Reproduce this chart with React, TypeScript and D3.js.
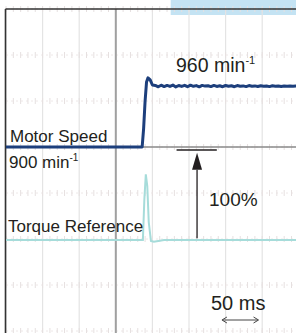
import React from 'react';
import * as d3 from 'd3';

// speed trace (min-1) against time (ms), step applied near t = 37 ms
const speedTimes = [-150, 36, 38, 40, 42, 44, 47, 50, 54, 58, 62, 66, 70, 74, 78, 82, 86, 90, 94, 98, 102, 106, 110, 114, 118, 122, 126, 130, 134, 138, 142, 146, 150, 154, 158, 162, 166, 170, 174, 178, 182, 186, 190, 194, 198, 202, 206, 210, 214, 218, 222, 226, 230, 234, 238, 242, 246, 250];
const speedValues = [900, 900, 918, 945, 964, 968, 966, 961, 960.5, 959.2, 960.8, 959.4, 960.6, 959.6, 960.9, 959.1, 960.5, 959.6, 960.7, 959.3, 960.8, 959.7, 960.4, 959.2, 960.6, 959.9, 960.3, 959.4, 960.6, 959.6, 960.2, 959.3, 960.5, 959.7, 960.2, 959.3, 960.4, 959.8, 960.1, 959.4, 960.4, 959.8, 960.1, 959.5, 960.3, 959.8, 960, 959.4, 960.2, 959.8, 960.1, 959.6, 960.1, 959.8, 960, 959.7, 960.1, 959.9];

// torque reference (%) against time (ms)
const torqueTimes = [-150, 37, 39, 41, 43, 45, 48, 52, 58, 66, 250];
const torqueValues = [0, 0, 45, 73, 60, 20, -1, -2, -1, 0, 0];

const gridCols = [-150, -100, -50, 0, 50, 100, 150, 200, 250];
const gridRows = [-3, -2, -1, 0, 1, 2, 3, 4];

const W = 296;
const H = 333;

const App = () => {
  const x = d3.scaleLinear().domain([-150, 250]).range([6, 298.8]);
  const ySpeed = d3.scaleLinear().domain([900, 960]).range([147, 86]);
  const yTorque = d3.scaleLinear().domain([0, 100]).range([240, 150]);
  const yDiv = (d: number) => 147 + d * 46;

  const speedLine = d3
    .line<number>()
    .x((_, i) => x(speedTimes[i]))
    .y((d) => ySpeed(d));
  const torqueLine = d3
    .line<number>()
    .x((_, i) => x(torqueTimes[i]))
    .y((d) => yTorque(d));

  const font = '"Liberation Sans", Arial, Helvetica, sans-serif';
  const ink = '#231f20';

  // small tick marks along each grid row (5 per division)
  const subTicks = d3.range(-150, 251, 10);

  const arrowX = x(111);
  const tArrow0 = x(145);
  const tArrow1 = x(195);

  return (
    <svg width={W} height={H} style={{ position: 'absolute', left: 0, top: 0, background: '#fff' }}>
      <rect x={x(75)} y={0} width={W - x(75)} height={15} fill="#c4e3f3" />

      {/* faint grid */}
      {gridCols.map((c) => (
        <line key={'c' + c} x1={x(c)} x2={x(c)} y1={9} y2={H} stroke="#e4e4e4" strokeWidth={1.2} />
      ))}
      {gridRows.map((r) => (
        <g key={'r' + r}>
          <line x1={6} x2={W} y1={yDiv(r)} y2={yDiv(r)} stroke="#eee8e8" strokeWidth={1} strokeDasharray="2,3" />
          {subTicks.map((t) => (
            <line key={t} x1={x(t)} x2={x(t)} y1={yDiv(r) - 3} y2={yDiv(r) + 3} stroke="#e6e0e0" strokeWidth={1} />
          ))}
        </g>
      ))}

      {/* centre lines */}
      <line x1={x(0)} x2={x(0)} y1={9} y2={H} stroke="#a0a0a0" strokeWidth={2} />
      <line x1={6} x2={W} y1={yDiv(0)} y2={yDiv(0)} stroke="#8a8a8a" strokeWidth={1.3} />

      {/* frame */}
      <line x1={5.5} x2={W} y1={9} y2={9} stroke="#333" strokeWidth={1.6} />
      <line x1={5.5} x2={5.5} y1={9} y2={H} stroke="#333" strokeWidth={1.6} />

      {/* traces */}
      <path d={torqueLine(torqueValues) ?? ''} fill="none" stroke="#a6dcda" strokeWidth={2} />
      <path d={speedLine(speedValues) ?? ''} fill="none" stroke="#1d3f7c" strokeWidth={3} strokeLinejoin="round" />

      {/* 100% arrow */}
      <line x1={x(83)} x2={x(138)} y1={yTorque(100)} y2={yTorque(100)} stroke={ink} strokeWidth={1.3} />
      <line x1={arrowX} x2={arrowX} y1={yTorque(78)} y2={yTorque(2)} stroke={ink} strokeWidth={1.3} />
      <path
        d={`M${arrowX},${yTorque(97)} L${arrowX - 5},${yTorque(78)} L${arrowX + 5},${yTorque(78)} Z`}
        fill={ink}
      />

      {/* 50 ms arrow */}
      <line x1={tArrow0 + 1} x2={tArrow1 - 1} y1={320} y2={320} stroke="#444" strokeWidth={1} />
      <path d={`M${tArrow0},320 L${tArrow0 + 5},317 M${tArrow0},320 L${tArrow0 + 5},323`} stroke="#444" fill="none" />
      <path d={`M${tArrow1},320 L${tArrow1 - 5},317 M${tArrow1},320 L${tArrow1 - 5},323`} stroke="#444" fill="none" />

      <g fontFamily={font} fill={ink} fontSize={17}>
        <text x={176} y={72} fontSize={19.5}>
          960 min<tspan fontSize={11} dy={-8}>-1</tspan>
        </text>
        <text x={10} y={142}>Motor Speed</text>
        <text x={9} y={168}>
          900 min<tspan fontSize={10} dy={-7}>-1</tspan>
        </text>
        <text x={209} y={206} fontSize={19}>100%</text>
        <text x={8} y={232}>Torque Reference</text>
        <text x={211} y={310} fontSize={20}>50 ms</text>
      </g>
    </svg>
  );
};

export default App;
